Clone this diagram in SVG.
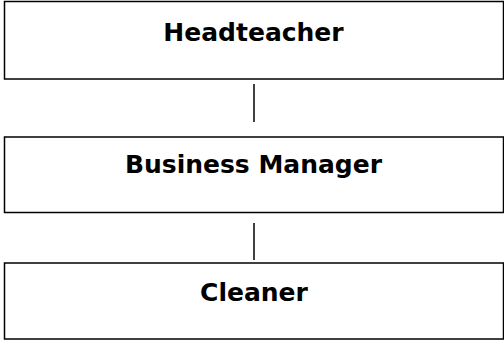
<svg xmlns="http://www.w3.org/2000/svg" width="504" height="340" viewBox="0 0 504 340">
  <style>
    .box { fill: #ffffff; stroke: #000000; stroke-width: 1.5; }
    .label { font-family: Verdana, "DejaVu Sans", sans-serif; font-weight: bold; font-size: 25px; fill: #000000; text-anchor: middle; }
    .link { stroke: #000000; stroke-width: 1.5; fill: none; }
  </style>
  <rect width="504" height="340" fill="#ffffff"/>
  <g id="connectors">
    <line class="link" x1="254" y1="84" x2="254" y2="122"/>
    <line class="link" x1="254" y1="223" x2="254" y2="260"/>
  </g>
  <g id="headteacher">
    <rect class="box" x="4.5" y="1.5" width="499" height="77.5"/>
    <text class="label" x="253.5" y="41">Headteacher</text>
  </g>
  <g id="business-manager">
    <rect class="box" x="4.5" y="137" width="499" height="75.5"/>
    <text class="label" x="253.5" y="172.5">Business Manager</text>
  </g>
  <g id="cleaner">
    <rect class="box" x="4.5" y="263" width="499" height="76"/>
    <text class="label" x="254" y="301">Cleaner</text>
  </g>
</svg>
